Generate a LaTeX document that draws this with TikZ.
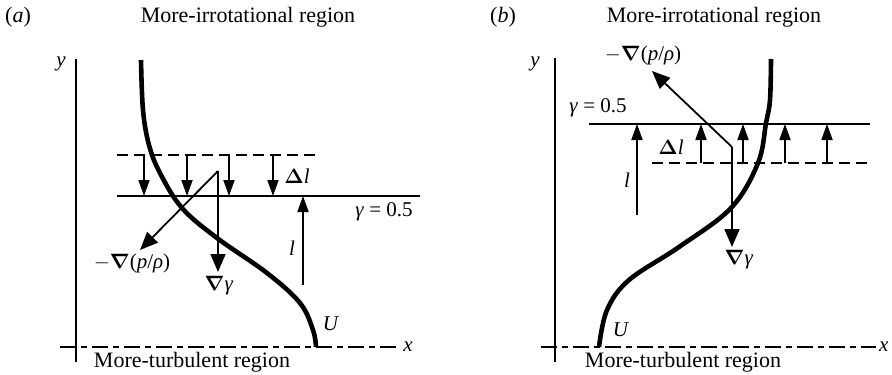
\documentclass[tikz,border=0pt]{standalone}
\usepackage{amsmath}
\usepackage{fontspec}
\setmainfont{Liberation Serif}
\usetikzlibrary{arrows.meta}

\begin{document}
\begin{tikzpicture}[x=1pt,y=-1pt,
    lbl/.style={font=\fontsize{22}{24}\selectfont},
    sym/.style={font=\fontsize{21}{23}\selectfont},
    small/.style={line width=1.8pt,-{Triangle[length=16pt,width=11pt]}},
    big/.style={line width=1.8pt,-{Triangle[length=18pt,width=15pt]}},
    axisdash/.style={line width=2pt,dash pattern=on 16pt off 5pt on 6pt off 5pt}]
  \useasboundingbox (0,0) rectangle (892,375);

  % (a)
  \node[lbl,anchor=base] (tagA) at (18,22) {(\textit{a})};
  \node[lbl,anchor=base] (titleA) at (248,22) {More-irrotational region};
  \draw[line width=1.8pt] (76,59) -- (76,362);
  \draw[axisdash] (60,347) -- (398,347);
  \node[sym] (yA) at (61,64) {\textit{y}};
  \node[sym] (xA) at (408,347) {\textit{x}};
  \node[lbl,anchor=base] (botA) at (192,367) {More-turbulent region};
  \draw[line width=4.6pt] plot[smooth,tension=0.6] coordinates
    {(141,60) (143,110) (149,145) (160,173) (182,208) (217,238) (267,273) (300,303) (313,330) (316,347)};
  \node[sym] (uA) at (331,324) {\textit{U}};
  \draw[line width=2pt,dash pattern=on 11pt off 6pt] (117,155) -- (321,155);
  \draw[line width=2.4pt] (117,196) -- (420,196);
  \foreach \xx in {144,187,229,273}
    \draw[small] (\xx,155) -- (\xx,196);
  \node[sym] (dlA) at (297,176) {$\boldsymbol{\Delta}$\textit{l}};
  \node[sym] (gA) at (384,212) {\textit{γ} = 0.5};
  \draw[small] (303,285) -- (303,196);
  \node[sym] (lA) at (292,248) {\textit{l}};
  \coordinate (cA) at (218,171);
  \draw[big] (cA) -- (218,272);
  \draw[big] (cA) -- (140,250);
  \node[sym] (pA) at (132,263) {$-\boldsymbol{\nabla}$(\textit{p}/\textit{ρ})};
  \node[sym] (ngA) at (219,286) {$\boldsymbol{\nabla}$\textit{γ}};

  % (b)
  \node[lbl,anchor=base] (tagB) at (503,22) {(\textit{b})};
  \node[lbl,anchor=base] (titleB) at (714,22) {More-irrotational region};
  \draw[line width=1.8pt] (555,58) -- (555,362);
  \draw[axisdash] (541,347) -- (876,347);
  \node[sym] (yB) at (535,64) {\textit{y}};
  \node[sym,anchor=east] (xB) at (892,347) {\textit{x}};
  \node[lbl,anchor=base] (botB) at (683,367) {More-turbulent region};
  \draw[line width=4.6pt] plot[smooth,tension=0.6] coordinates
    {(771,59) (770,100) (766,123) (758,163) (731,208) (679,247) (629,280) (607,310) (599,347)};
  \node[sym] (uB) at (621,330) {\textit{U}};
  \draw[line width=2.4pt] (589,124) -- (870,124);
  \draw[line width=2pt,dash pattern=on 11pt off 6pt] (652,163) -- (867,163);
  \foreach \xx in {701,743,785,827}
    \draw[small] (\xx,163) -- (\xx,124);
  \node[sym] (dlB) at (671,147) {$\boldsymbol{\Delta}$\textit{l}};
  \node[sym] (gB) at (598,108) {\textit{γ} = 0.5};
  \draw[small] (637,215) -- (637,124);
  \node[sym] (lB) at (627,180) {\textit{l}};
  \coordinate (cB) at (732,147);
  \draw[big] (cB) -- (732,247);
  \draw[big] (cB) -- (652,71);
  \node[sym] (pB) at (643,55) {$-\boldsymbol{\nabla}$(\textit{p}/\textit{ρ})};
  \node[sym] (ngB) at (739,260) {$\boldsymbol{\nabla}$\textit{γ}};
\end{tikzpicture}
\end{document}
